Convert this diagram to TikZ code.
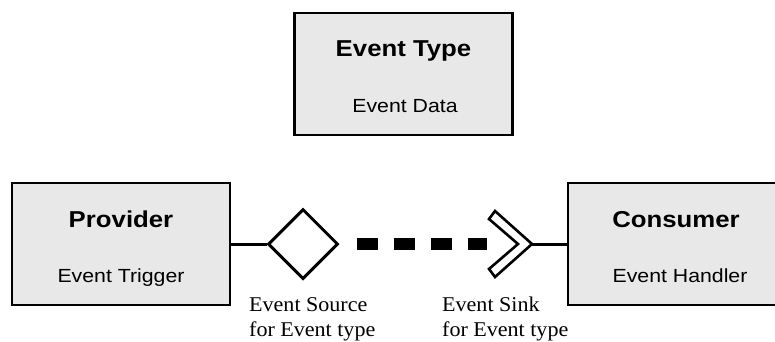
\documentclass[tikz,border=0pt]{standalone}
\usepackage{fontspec}
\newfontfamily\titlesans[FakeStretch=1.12]{Liberation Sans}
\newfontfamily\labelsans[FakeStretch=1.12]{Liberation Sans}
\newfontfamily\notefont[FakeStretch=1.05]{Liberation Serif}
\usetikzlibrary{shapes.geometric}
\definecolor{boxgray}{RGB}{232,232,232}

\begin{document}
\begin{tikzpicture}[x=1pt, y=-1pt,
  box/.style={draw=black, fill=boxgray, line width=2.6pt, rectangle,
    minimum width=218pt, minimum height=122pt, inner sep=0pt},
  title/.style={font=\titlesans\bfseries\fontsize{23}{27}\selectfont,
    anchor=base, inner sep=0pt},
  sub/.style={font=\labelsans\fontsize{19}{23}\selectfont,
    anchor=base, inner sep=0pt},
  note/.style={font=\notefont\fontsize{21}{25.5}\selectfont,
    align=left, anchor=base west, inner sep=0pt},
  wire/.style={draw=black, line width=3pt},
  port/.style={diamond, draw=black, fill=white, line width=3pt, aspect=1,
    minimum width=70pt, minimum height=70pt, inner sep=0pt},
  sinkmark/.style={draw=black, fill=white, line width=2.6pt, line join=miter},
  flow/.style={draw=black, line width=12pt, dash pattern=on 21pt off 16pt}
]
\useasboundingbox (0,0) rectangle (775,341);
\clip (0,0) rectangle (775,341);

% event type
\node[box] (etype) at (403.5,74) {};
\node[title] (etypeT) at (403.5,56) {Event Type};
\node[sub] (etypeD) at (405,112) {Event Data};

% provider
\node[box] (prov) at (121,244) {};
\node[title] (provT) at (121,227) {Provider};
\node[sub] (provD) at (121,282) {Event Trigger};

% consumer (runs off the right edge)
\node[box] (cons) at (677,244) {};
\node[title] (consT) at (676,227) {Consumer};
\node[sub] (consD) at (680,282) {Event Handler};

% event source port
\node[port] (src) at (303,244) {};
\draw[wire] (prov.east) -- (src.west);

% event sink chevron, tip at (sink)
\coordinate (sink) at (532,244);
\draw[flow] ([xshift=17pt]src.east) -- ([xshift=-45pt]sink);
\draw[sinkmark] ([shift={(-43,-25)}]sink) -- ([shift={(-37,-33)}]sink) -- (sink)
  -- ([shift={(-37,33)}]sink) -- ([shift={(-43,25)}]sink)
  -- ([shift={(-14,0)}]sink) -- cycle;
\draw[wire] (sink) -- (cons.west);

% captions (base anchor sits on the last line)
\node[note] (srcnote) at (249,336.5) {Event Source\\for Event type};
\node[note] (sinknote) at (442,336.5) {Event Sink\\for Event type};
\end{tikzpicture}
\end{document}
